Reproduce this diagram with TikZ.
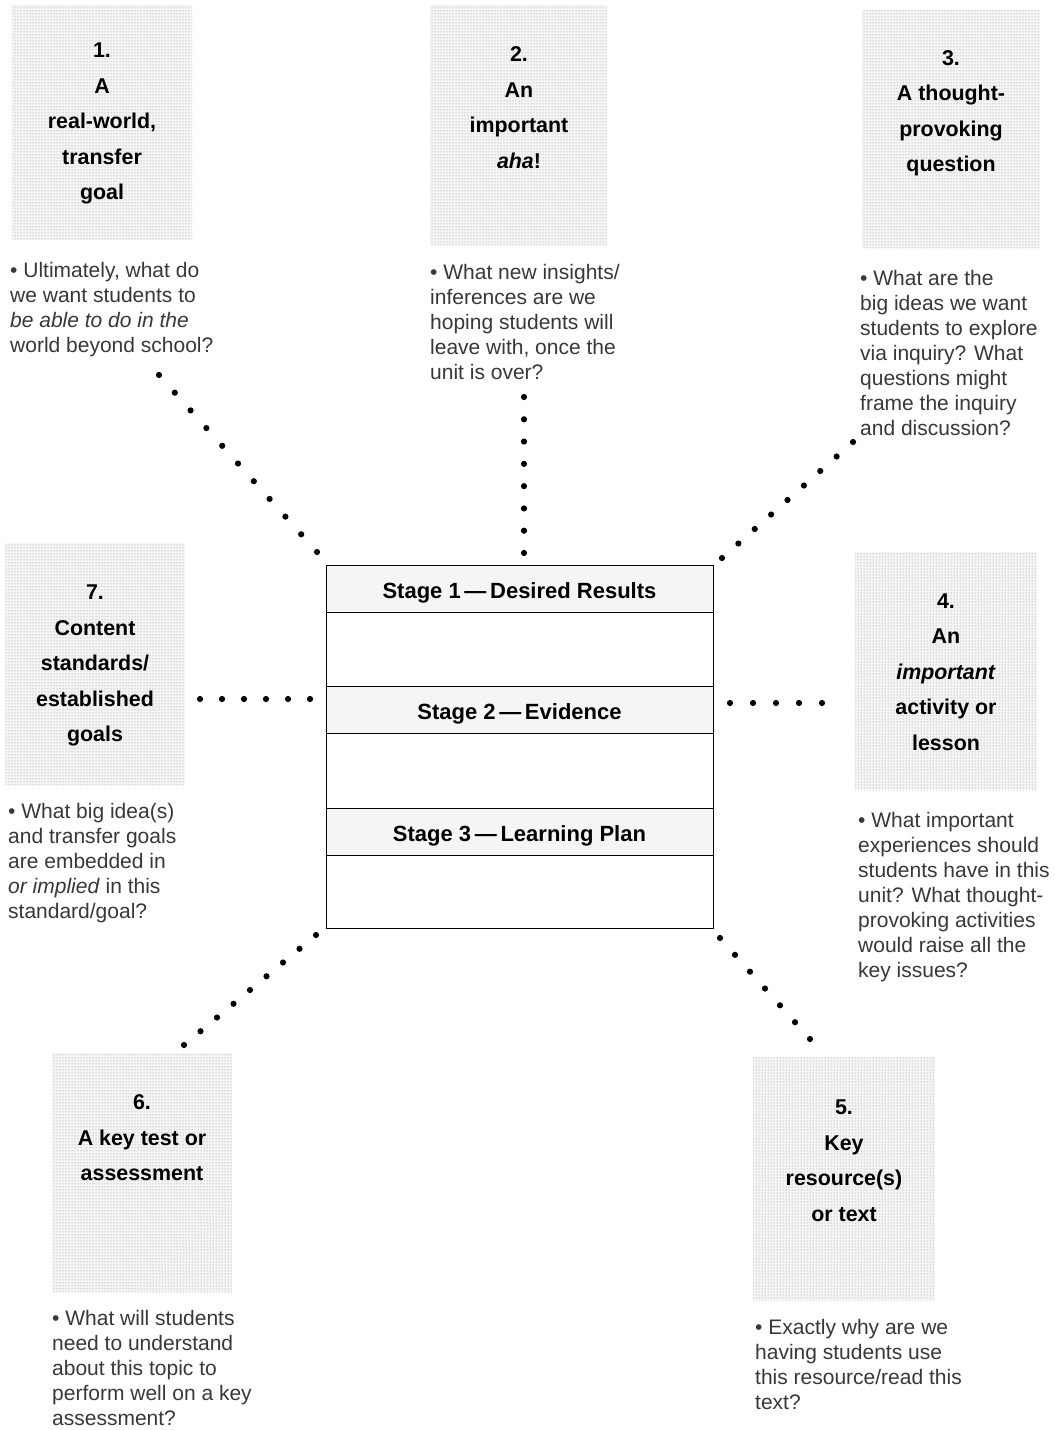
\documentclass[tikz,border=0pt]{standalone}
\usepackage{fontspec}
\setmainfont{Liberation Sans}
\usetikzlibrary{calc,patterns}
\newcommand\mydotrow[3]{\foreach \i in {0,...,#3}{\fill[black] ($(#1)!\i/#3!(#2)$) circle (3.1pt);}}
\begin{document}
\begin{tikzpicture}[x=1pt,y=-1pt,
  stip/.style={fill=black!4, draw=none, inner sep=0pt, postaction={pattern=dots, pattern color=black!45}},
  ttl/.style={font=\fontsize{21.4}{35.5}\selectfont\bfseries, align=center, anchor=base, inner sep=0pt},
  blt/.style={font=\fontsize{21}{25}\selectfont, text=black!78, align=left, anchor=base west, inner sep=0pt},
  hdr/.style={draw=black, line width=0.8pt, fill=black!4, minimum width=387pt, minimum height=47pt, inner sep=0pt, text height=19pt, text depth=0pt, font=\fontsize{22}{26}\selectfont\bfseries},
  frame/.style={draw=black, line width=0.9pt, minimum width=387pt, minimum height=363pt, inner sep=0pt}]
\useasboundingbox[fill=white] (0,0) rectangle (1055,1430);

% stippled boxes
\node[stip, minimum width=180pt, minimum height=235pt] (b1) at (102,122.5) {};
\node[stip, minimum width=177pt, minimum height=240pt] (b2) at (518.5,125) {};
\node[stip, minimum width=178pt, minimum height=238pt] (b3) at (951,129) {};
\node[stip, minimum width=182pt, minimum height=238pt] (b4) at (946,671) {};
\node[stip, minimum width=180pt, minimum height=242pt] (b7) at (95,664) {};
\node[stip, minimum width=180pt, minimum height=239pt] (b6) at (142,1172.5) {};
\node[stip, minimum width=182pt, minimum height=243pt] (b5) at (844,1178.5) {};

% titles (anchor = baseline of last line)
\node[ttl] (t1) at (102,199.5) {1.\\A\\real-world,\\transfer\\goal};
\node[ttl] (t2) at (519,168) {2.\\An\\important\\\textit{aha}!};
\node[ttl] (t3) at (951,171.5) {3.\\A thought-\\provoking\\question};
\node[ttl] (t4) at (946,750) {4.\\An\\\textit{important}\\activity or\\lesson};
\node[ttl] (t7) at (95,741.5) {7.\\Content\\standards/\\established\\goals};
\node[ttl] (t6) at (142,1180.5) {6.\\A key test or\\assessment};
\node[ttl] (t5) at (844,1221) {5.\\Key\\resource(s)\\or text};

% questions (anchor = baseline of last line)
\node[blt] (q1) at (10,352) {• Ultimately, what do\\we want students to\\\textit{be able to do in the}\\world beyond school?};
\node[blt] (q2) at (430,379) {• What new insights/\\inferences are we\\hoping students will\\leave with, once the\\unit is over?};
\node[blt] (q3) at (860,435) {• What are the\\big ideas we want\\students to explore\\via inquiry? What\\questions might\\frame the inquiry\\and discussion?};
\node[blt] (q4) at (858,977) {• What important\\experiences should\\students have in this\\unit? What thought-\\provoking activities\\would raise all the\\key issues?};
\node[blt] (q7) at (8,918) {• What big idea(s)\\and transfer goals\\are embedded in\\\textit{or implied} in this\\standard/goal?};
\node[blt] (q6) at (52,1425) {• What will students\\need to understand\\about this topic to\\perform well on a key\\assessment?};
\node[blt] (q5) at (755,1409) {• Exactly why are we\\having students use\\this resource/read this\\text?};

% central template
\node[frame] (cb) at (519.5,746.5) {};
\node[hdr] (h1) at (519.5,588.5) {Stage 1\,—\,Desired Results};
\node[hdr] (h2) at (519.5,709.5) {Stage 2\,—\,Evidence};
\node[hdr] (h3) at (519.5,831.5) {Stage 3\,—\,Learning Plan};

% dotted connectors
\coordinate (c1a) at (159,375);  \coordinate (c1b) at (317,552);
\coordinate (c2a) at (524,397);  \coordinate (c2b) at (524,553);
\coordinate (c3a) at (853,442);  \coordinate (c3b) at (722,558);
\coordinate (c4a) at (730,703);  \coordinate (c4b) at (822,703);
\coordinate (c7a) at (200,699);  \coordinate (c7b) at (310,699);
\coordinate (c5a) at (720,938);  \coordinate (c5b) at (810,1039);
\coordinate (c6a) at (316,935);  \coordinate (c6b) at (184,1045);
\mydotrow{c1a}{c1b}{10}
\mydotrow{c2a}{c2b}{7}
\mydotrow{c3a}{c3b}{8}
\mydotrow{c4a}{c4b}{4}
\mydotrow{c7a}{c7b}{5}
\mydotrow{c5a}{c5b}{6}
\mydotrow{c6a}{c6b}{8}
\end{tikzpicture}
\end{document}
